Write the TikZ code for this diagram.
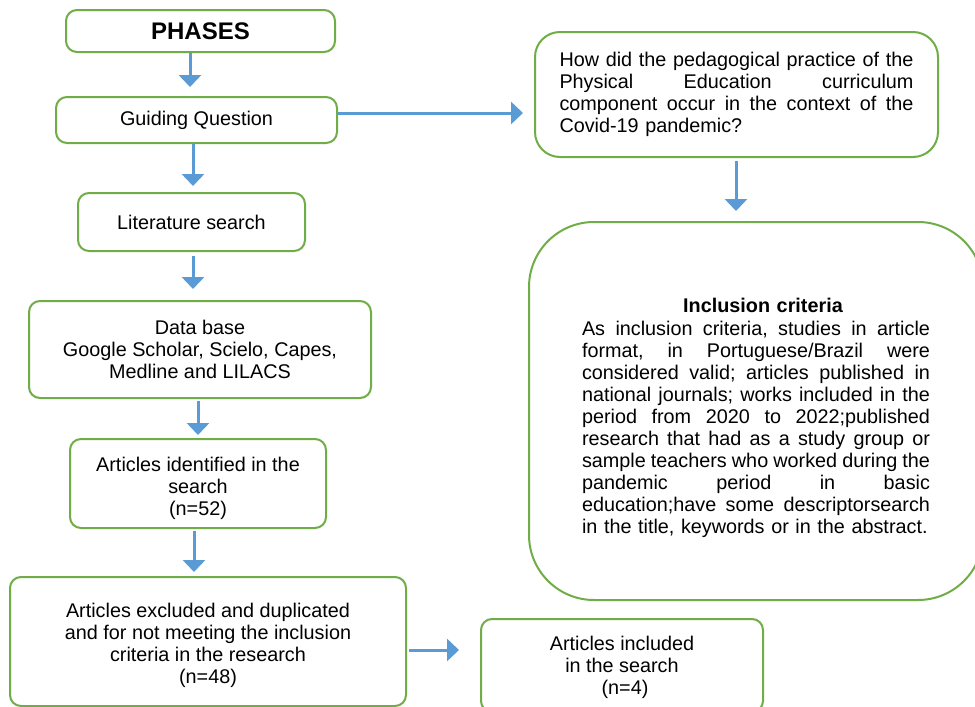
\documentclass[tikz,border=0pt]{standalone}
\usepackage{fontspec}
\setmainfont{Liberation Sans}
\usetikzlibrary{arrows.meta,calc}
\definecolor{boxgreen}{RGB}{112,173,71}
\definecolor{arrblue}{RGB}{91,155,213}
\newcommand\jline[2]{\hbox to #1{\frenchspacing\spaceskip=.278em plus 1fil minus .09em\relax #2}}
\begin{document}
\begin{tikzpicture}[x=1pt,y=-1pt,
  box/.style={draw=boxgreen, line width=2pt, rounded corners=11pt, fill=white,
    inner sep=0pt, align=center, font=\fontsize{19.8}{22}\selectfont},
  arr/.style={draw=arrblue, line width=3pt, -{Triangle[width=22pt,length=12pt]}}]
\useasboundingbox (0,0) rectangle (975,707);
\clip (0,0) rectangle (975,707);
% left column
\node[box, minimum width=269pt, minimum height=42pt, font=\fontsize{24}{28}\selectfont\bfseries] (phases) at (200.5,31) {PHASES};
\node[box, minimum width=281pt, minimum height=46pt] (gq) at (196.5,120) {Guiding Question};
\node[box, minimum width=227pt, minimum height=58pt] (lit) at (191.5,222) {Literature search};
\node[box, minimum width=342pt, minimum height=97pt] (db) at (200,349.5) {Data base\\Google Scholar, Scielo, Capes,\\Medline and LILACS};
\node[box, minimum width=256pt, minimum height=89pt] (ident) at (198,483.5) {\rule{0pt}{25pt}Articles identified in the\\search\\(n=52)};
\node[box, minimum width=396pt, minimum height=129pt] (excl) at (208,641.5) {\rule{0pt}{23pt}Articles excluded and duplicated\\and for not meeting the inclusion\\criteria in the research\\(n=48)};
\node[box, minimum width=282pt, minimum height=93pt] (incl) at (622,665.5) {\rule{0pt}{19pt}Articles included\\in the search\\\hspace*{6pt}(n=4)};
% right column
\node[box, rounded corners=25pt, minimum width=403pt, minimum height=125pt, text width=354pt, align=left] (q) at (736.5,94.5)
 {\jline{354pt}{How did the pedagogical practice of the}
  \jline{354pt}{Physical Education curriculum}
  \jline{354pt}{component occur in the context of the}
  Covid-19 pandemic?\\[7pt]};
\node[box, rounded corners=65pt, minimum width=454pt, minimum height=378pt, text width=348pt, align=left] (crit) at (756,411)
 {\makebox[348pt][c]{\hspace*{14pt}\rule{0pt}{28pt}\bfseries Inclusion criteria}\\[1pt]
  \jline{348pt}{As inclusion criteria, studies in article}
  \jline{348pt}{format, in Portuguese/Brazil were}
  \jline{348pt}{considered valid; articles published in}
  \jline{348pt}{national journals; works included in the}
  \jline{348pt}{period from 2020 to 2022;published}
  \jline{348pt}{research that had as a study group or}
  \jline{348pt}{sample teachers who worked during the}
  \jline{348pt}{pandemic period in basic}
  \jline{348pt}{education;have some descriptorsearch}
  in the title, keywords or in the abstract.};
% helper coordinates for connector lanes
\coordinate (v1) at (190,0);
\coordinate (v2) at (193,0);
\coordinate (v3) at (198,0);
\coordinate (v4) at (194,0);
\coordinate (v5) at (736,0);
\coordinate (h1) at (0,113);
\coordinate (h2) at (0,650);
% connectors
\draw[arr, shorten >=9pt] (phases.south -| v1) -- (gq.north -| v1);
\draw[arr, shorten >=6pt] (gq.south -| v2) -- (lit.north -| v2);
\draw[arr, shorten <=4pt, shorten >=11pt] (lit.south -| v2) -- (db.north -| v2);
\draw[arr, shorten <=2pt, shorten >=3pt] (db.south -| v3) -- (ident.north -| v3);
\draw[arr, shorten <=2pt, shorten >=4pt] (ident.south -| v4) -- (excl.north -| v4);
\draw[arr, shorten <=3pt, shorten >=10pt] (q.south -| v5) -- (crit.north -| v5);
\draw[arr, shorten >=11pt] (gq.east |- h1) -- (q.west |- h1);
\draw[arr, shorten <=2pt, shorten >=21pt] (excl.east |- h2) -- (incl.west |- h2);
\end{tikzpicture}
\end{document}
